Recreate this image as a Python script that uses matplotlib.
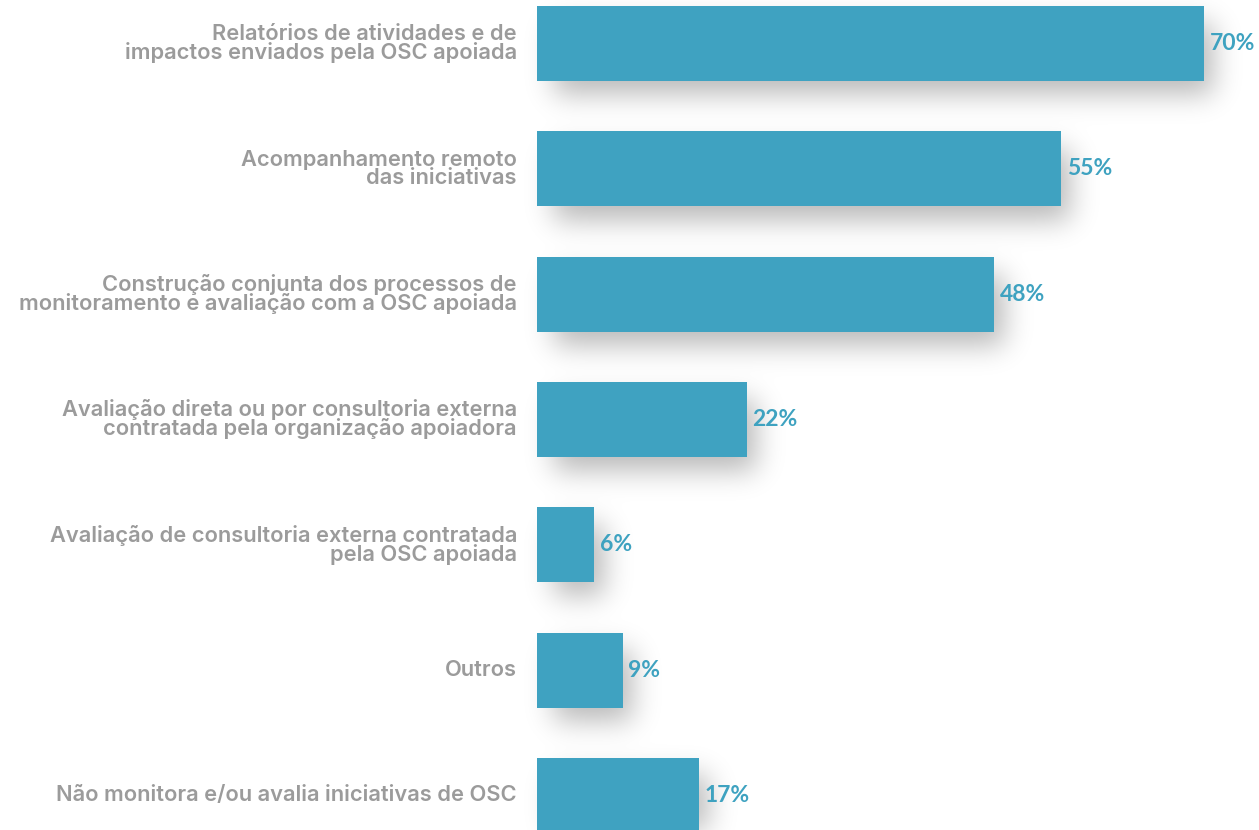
import numpy as np
import matplotlib
matplotlib.use("Agg")
import matplotlib.pyplot as plt

categories = [
    "Relatórios de atividades e de\nimpactos enviados pela OSC apoiada",
    "Acompanhamento remoto\ndas iniciativas",
    "Construção conjunta dos processos de\nmonitoramento e avaliação com a OSC apoiada",
    "Avaliação direta ou por consultoria externa\ncontratada pela organização apoiadora",
    "Avaliação de consultoria externa contratada\npela OSC apoiada",
    "Outros",
    "Não monitora e/ou avalia iniciativas de OSC",
]
values = [70, 55, 48, 22, 6, 9, 17]

BAR = "#3fa2c1"
LABEL = "#9b9b9b"
VALUE = "#3ea2c0"

W, H = 1259, 830
px_per_pct = 9.53
x0 = 537
fig = plt.figure(figsize=(W / 100, H / 100), dpi=100)
ax = fig.add_axes([0, 0, 1, 1])
xmin, xmax = -x0 / px_per_pct, (W - x0) / px_per_pct
ax.axis("off")

step = 125.3
first = 43.5
bh = 75
centers = [first + step * i for i in range(len(values))]

# blurred drop shadow built on a grid in data coordinates
gx = np.linspace(xmin, xmax, W)
gy = np.linspace(0, H, H)
mask = np.zeros((H, W))
for yc, v in zip(centers, values):
    inx = (gx >= 1.8) & (gx <= v + 1.0)
    iny = (gy >= yc - bh / 2 + 18) & (gy <= yc + bh / 2 + 14)
    mask[np.ix_(iny, inx)] = 1.0

sigma = 14
k = np.arange(-3 * sigma, 3 * sigma + 1)
kern = np.exp(-k ** 2 / (2 * sigma ** 2))
kern /= kern.sum()
blur = np.apply_along_axis(lambda r: np.convolve(r, kern, mode="same"), 1, mask)
blur = np.apply_along_axis(lambda c: np.convolve(c, kern, mode="same"), 0, blur)

rgba = np.zeros((H, W, 4))
rgba[..., 3] = blur * 0.28
ax.imshow(rgba, extent=(xmin, xmax, H, 0), aspect="auto", zorder=1,
          interpolation="bilinear")

for yc, cat, v in zip(centers, categories, values):
    ax.barh(yc, v, height=bh, color=BAR, zorder=3)
    ax.text(-2.1, yc, cat, ha="right", va="center", fontsize=15.75,
            family="Inter", weight="semibold", color=LABEL,
            linespacing=0.88, zorder=4)
    ax.text(v + 0.6, yc, f"{v}%", ha="left", va="center", fontsize=16.5,
            family="Lato", weight="bold", color=VALUE, zorder=4)

ax.set_xlim(xmin, xmax)
ax.set_ylim(H, 0)
fig.savefig("out.png", dpi=100, facecolor="white")
